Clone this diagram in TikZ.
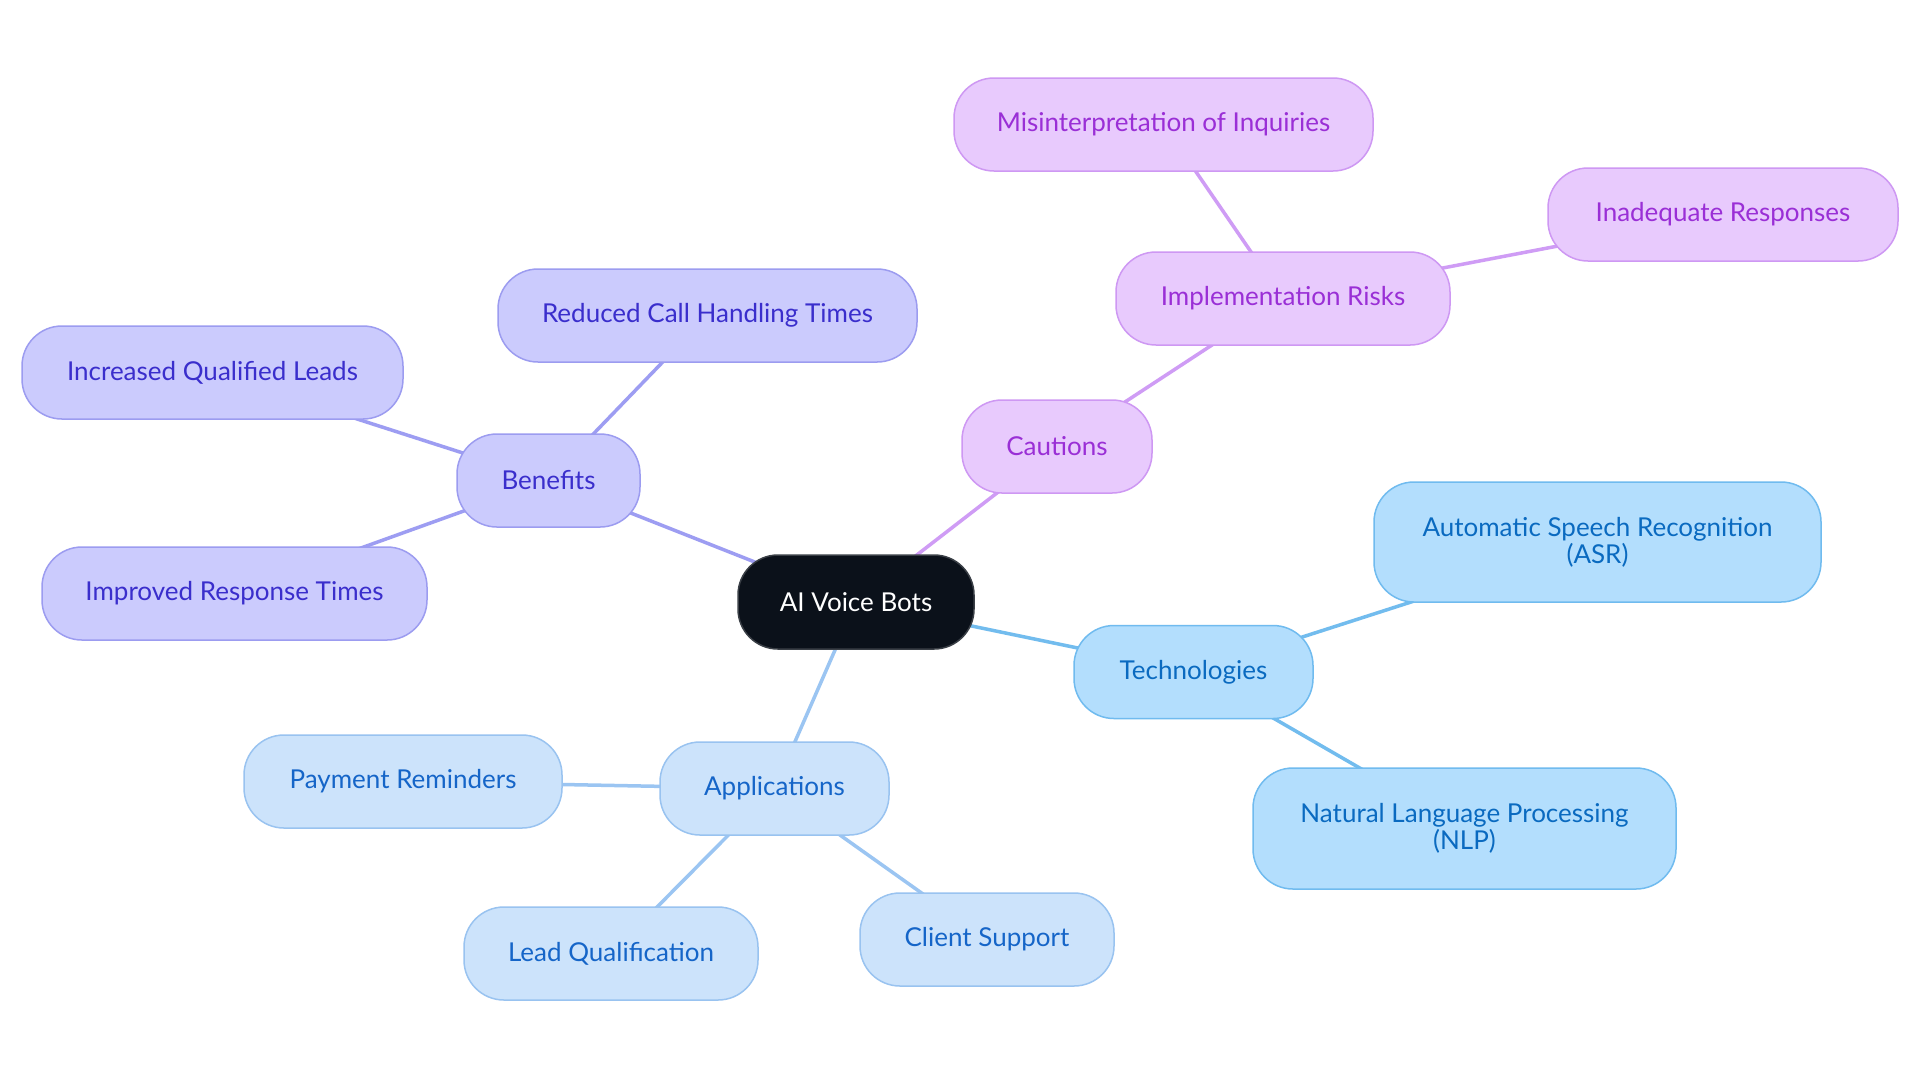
\documentclass[tikz,border=0pt]{standalone}
\usepackage{fontspec}
\setmainfont{Lato}
\usetikzlibrary{backgrounds}
\definecolor{rootF}{HTML}{0B111A}
\definecolor{rootD}{HTML}{3A3F46}
\definecolor{benF}{HTML}{CBCBFD}
\definecolor{benD}{HTML}{9C9CF0}
\definecolor{benT}{HTML}{3A2ECC}
\definecolor{benE}{HTML}{9D9DF2}
\definecolor{cauF}{HTML}{E8CAFD}
\definecolor{cauD}{HTML}{CE98F3}
\definecolor{cauT}{HTML}{9A2FD6}
\definecolor{cauE}{HTML}{CF9CF5}
\definecolor{tecF}{HTML}{B3DEFD}
\definecolor{tecD}{HTML}{70BBEF}
\definecolor{tecT}{HTML}{0A6AC0}
\definecolor{tecE}{HTML}{72BCEE}
\definecolor{appF}{HTML}{CCE3FB}
\definecolor{appD}{HTML}{99C3F0}
\definecolor{appT}{HTML}{1565C8}
\definecolor{appE}{HTML}{9BC5F2}
\begin{document}
\begin{tikzpicture}[x=0.5pt,y=-0.5pt,
  box/.style={draw, rounded corners=20pt, line width=0.75pt, align=center, inner sep=0pt,
    minimum height=46.5pt, font=\fontsize{13}{13.5}\selectfont},
  rootbox/.style={box, fill=rootF, draw=rootD, text=white},
  benbox/.style={box, fill=benF, draw=benD, text=benT},
  caubox/.style={box, fill=cauF, draw=cauD, text=cauT},
  tecbox/.style={box, fill=tecF, draw=tecD, text=tecT},
  appbox/.style={box, fill=appF, draw=appD, text=appT},
  link/.style={line width=1.75pt}
]
\useasboundingbox (0,0) rectangle (1920,1083);

\node[rootbox, minimum width=118pt, minimum height=47pt] (root) at (856,602) {AI Voice Bots};

\node[benbox, minimum width=91.5pt] (ben) at (548.5,480.5) {Benefits};
\node[benbox, minimum width=209.5pt] (red) at (707.5,315.5) {Reduced Call Handling Times};
\node[benbox, minimum width=190.5pt] (inc) at (212.5,372.5) {Increased Qualified Leads};
\node[benbox, minimum width=192.5pt] (imp) at (234.5,593.5) {Improved Response Times};

\node[caubox, minimum width=95pt] (cau) at (1057,446.5) {Cautions};
\node[caubox, minimum width=167pt] (risk) at (1283,298.5) {Implementation Risks};
\node[caubox, minimum width=209.5pt] (mis) at (1163.5,124.5) {Misinterpretation of Inquiries};
\node[caubox, minimum width=175pt] (inad) at (1723,214.5) {Inadequate Responses};

\node[tecbox, minimum width=119.5pt] (tec) at (1193.5,672) {Technologies};
\node[tecbox, minimum width=223.5pt, minimum height=60pt] (asr) at (1597.5,542) {Automatic Speech Recognition\\(ASR)};
\node[tecbox, minimum width=211.5pt, minimum height=60.5pt] (nlp) at (1464.5,828.5) {Natural Language Processing\\(NLP)};

\node[appbox, minimum width=114.5pt] (app) at (774.5,788.5) {Applications};
\node[appbox, minimum width=159pt] (pay) at (403,781.5) {Payment Reminders};
\node[appbox, minimum width=147pt] (lead) at (611,953.5) {Lead Qualification};
\node[appbox, minimum width=127pt] (cli) at (987,939.5) {Client Support};

\begin{pgfonlayer}{background}
\fill[white] (0,0) rectangle (1920,1083);
\draw[link, benE] (root.center) -- (ben.center);
\draw[link, benE] (ben.center) -- (red.center);
\draw[link, benE] (ben.center) -- (inc.center);
\draw[link, benE] (ben.center) -- (imp.center);
\draw[link, cauE] (root.center) -- (cau.center);
\draw[link, cauE] (cau.center) -- (risk.center);
\draw[link, cauE] (risk.center) -- (mis.center);
\draw[link, cauE] (risk.center) -- (inad.center);
\draw[link, tecE] (root.center) -- (tec.center);
\draw[link, tecE] (tec.center) -- (asr.center);
\draw[link, tecE] (tec.center) -- (nlp.center);
\draw[link, appE] (root.center) -- (app.center);
\draw[link, appE] (app.center) -- (pay.center);
\draw[link, appE] (app.center) -- (lead.center);
\draw[link, appE] (app.center) -- (cli.center);
\end{pgfonlayer}
\end{tikzpicture}
\end{document}
